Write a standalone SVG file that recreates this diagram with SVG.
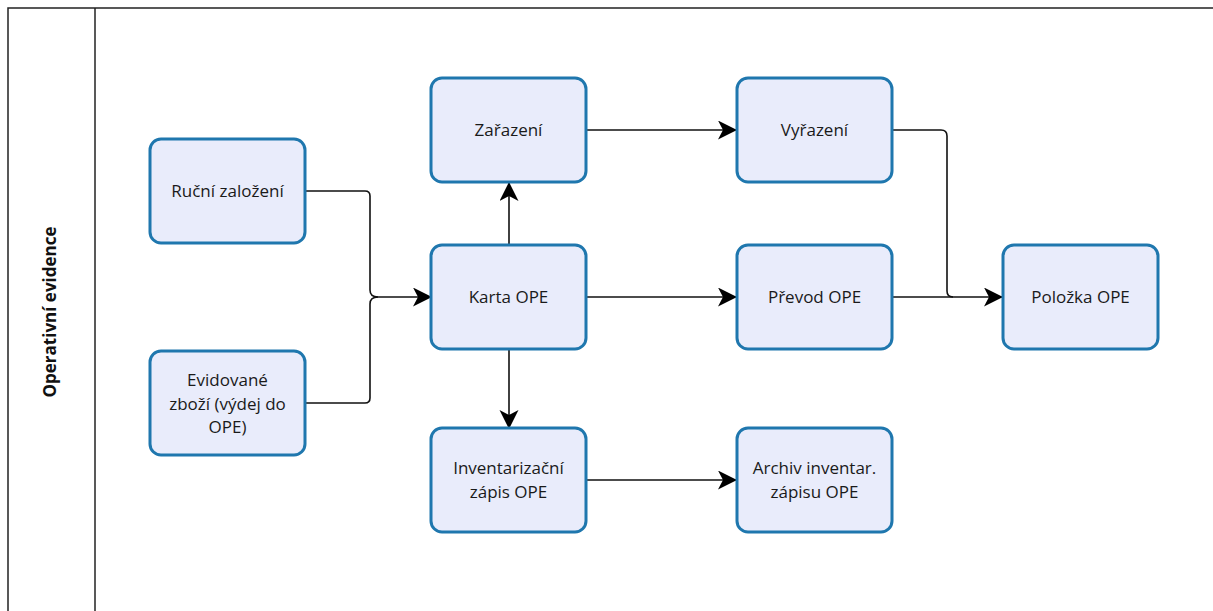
<svg xmlns="http://www.w3.org/2000/svg" width="1213" height="611" viewBox="0 0 1213 611">
<defs>
<style>
.node rect{fill:#E9ECFB;stroke:#1F77AE;stroke-width:3}
.node text{font-family:"Open Sans","Noto Sans",sans-serif;font-size:17px;fill:#1a1a1a;text-anchor:middle}
.conn path{fill:none;stroke:#111;stroke-width:1.6}
.lane{fill:none;stroke:#222;stroke-width:1.5}
.lanelabel{font-family:"Open Sans","Noto Sans",sans-serif;font-size:17px;font-weight:bold;fill:#111;text-anchor:middle}
</style>
<marker id="arr" markerUnits="userSpaceOnUse" markerWidth="20" markerHeight="20" refX="18" refY="9.5" orient="auto">
<path d="M0,0 L19,9.5 L0,19 L5,9.5 z" fill="#000"/>
</marker>
</defs>
<rect width="1213" height="611" fill="#fff"/>
<g id="lane">
<path class="lane" d="M8,612 V8 H1214"/>
<path class="lane" d="M95,8 V612"/>
<text class="lanelabel" transform="translate(56,312) rotate(-90)">Operativní evidence</text>
</g>
<g class="conn" id="connectors">
<path d="M305,191 H365 Q370,191 370,196 V290 Q370,297 378,297"/>
<path d="M305,403 H365 Q370,403 370,398 V304 Q370,297 378,297"/>
<path d="M378,297 H431" marker-end="url(#arr)"/>
<path d="M509,245 V183" marker-end="url(#arr)"/>
<path d="M509,349 V428" marker-end="url(#arr)"/>
<path d="M586,297 H736" marker-end="url(#arr)"/>
<path d="M586,130 H736" marker-end="url(#arr)"/>
<path d="M586,480 H736" marker-end="url(#arr)"/>
<path d="M892,130 H941 Q947,130 947,136 V291 Q947,297 953,297"/>
<path d="M892,297 H1002" marker-end="url(#arr)"/>
</g>
<g class="node" id="n-rucni"><rect x="150" y="139" width="155" height="104" rx="11"/><text x="227.5" y="197">Ruční založení</text></g>
<g class="node" id="n-evid"><rect x="150" y="351" width="155" height="104" rx="11"/><text x="227.5" y="386">Evidované</text><text x="227.5" y="409.5">zboží (výdej do</text><text x="227.5" y="433">OPE)</text></g>
<g class="node" id="n-zarazeni"><rect x="431" y="78" width="155" height="104" rx="11"/><text x="508.5" y="136">Zařazení</text></g>
<g class="node" id="n-karta"><rect x="431" y="245" width="155" height="104" rx="11"/><text x="508.5" y="303">Karta OPE</text></g>
<g class="node" id="n-invent"><rect x="431" y="428" width="155" height="104" rx="11"/><text x="508.5" y="474">Inventarizační</text><text x="508.5" y="497.5">zápis OPE</text></g>
<g class="node" id="n-vyrazeni"><rect x="737" y="78" width="155" height="104" rx="11"/><text x="814.5" y="136">Vyřazení</text></g>
<g class="node" id="n-prevod"><rect x="737" y="245" width="155" height="104" rx="11"/><text x="814.5" y="303">Převod OPE</text></g>
<g class="node" id="n-archiv"><rect x="737" y="428" width="155" height="104" rx="11"/><text x="814.5" y="474">Archiv inventar.</text><text x="814.5" y="497.5">zápisu OPE</text></g>
<g class="node" id="n-polozka"><rect x="1003" y="245" width="155" height="104" rx="11"/><text x="1080.5" y="303">Položka OPE</text></g>
</svg>
